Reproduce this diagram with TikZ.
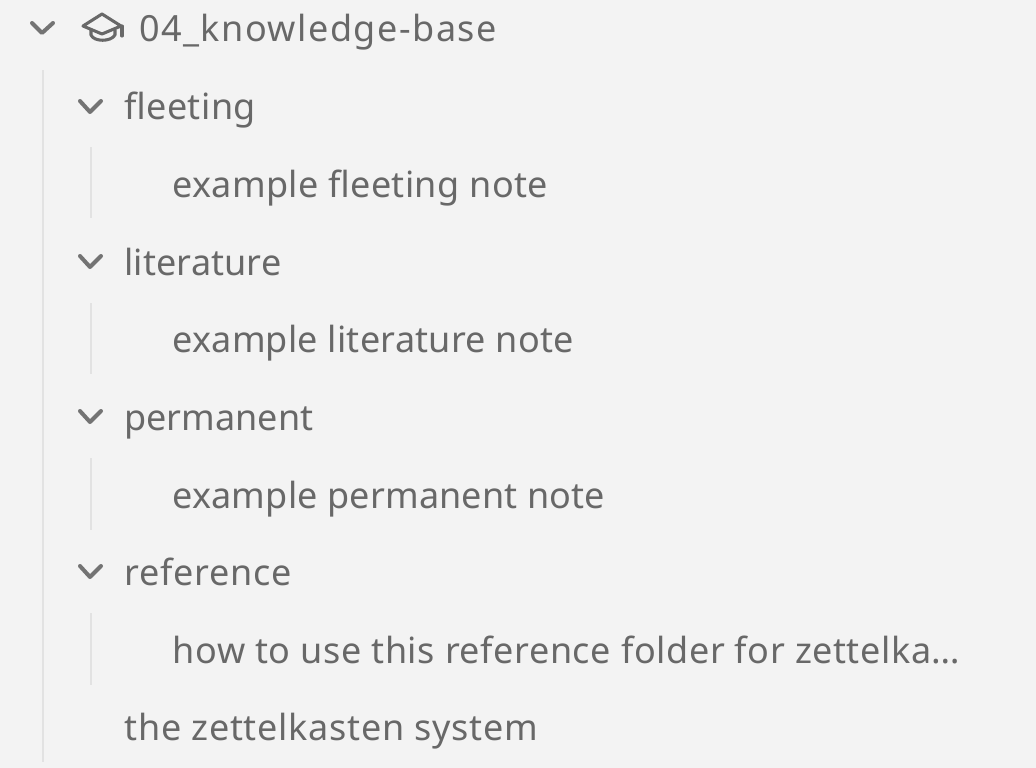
\documentclass[tikz,border=0pt]{standalone}
\usepackage{fontspec}
\setmainfont{Noto Sans}
\newcommand\trk[1]{\addfontfeature{LetterSpace=#1}}
\definecolor{bg}{HTML}{F3F3F3}
\definecolor{txt}{HTML}{686868}
\definecolor{guide}{HTML}{E2E2E2}
\definecolor{chev}{HTML}{737373}
\tikzset{
  x=0.75pt,y=-0.75pt,
  rowtext/.style={anchor=base west,inner sep=0pt,outer sep=0pt,text=txt,font=\fontsize{27pt}{30pt}\selectfont},
  guideline/.style={draw=guide,line width=1.5pt},
  chevron/.style={draw=chev,line width=3pt,line cap=round,line join=round},
  hatline/.style={draw=txt,line width=2.3pt,line cap=round,line join=round}
}
\begin{document}
\begin{tikzpicture}
\useasboundingbox (0,0) rectangle (1036,768);
\fill[bg] (0,0) rectangle (1036,768);
% guides
\draw[guideline] (43,70) -- (43,762);
\draw[guideline] (91,147) -- (91,218);
\draw[guideline] (91,303) -- (91,374);
\draw[guideline] (91,458) -- (91,530);
\draw[guideline] (91,613) -- (91,685);
% chevrons
\draw[chevron] (32,23) -- (42,33) -- (53,23);
\draw[chevron] (80,101) -- (90,112) -- (101,101);
\draw[chevron] (80,256) -- (90,267) -- (101,256);
\draw[chevron] (80,411) -- (90,422) -- (101,411);
\draw[chevron] (80,566) -- (90,577) -- (101,566);
% mortarboard
\draw[hatline] (83,26) -- (102,14) -- (121,26) -- (102,34) -- cycle;
\draw[hatline] (91,30) -- (91,35) .. controls (94,42) and (111,42) .. (115,35) -- (115,30);
\draw[hatline] (122,26) -- (122,36);
% texts
\node[rowtext] (root) at (139,41) {\trk{4.2}04\_knowledge-base};
\node[rowtext] (fleeting) at (124.5,119) {\trk{1.1}fleeting};
\node[rowtext] (fnote) at (172.5,197) {\trk{1}example fleeting note};
\node[rowtext] (literature) at (124.5,275) {\trk{0.3}literature};
\node[rowtext] (lnote) at (172.5,352) {\trk{0.7}example literature note};
\node[rowtext] (permanent) at (124.5,430) {\trk{0}permanent};
\node[rowtext] (pnote) at (172.5,508) {\trk{0.5}example permanent note};
\node[rowtext] (reference) at (124.5,585) {\trk{2}reference};
\node[rowtext] (rnote) at (172.5,663) {\trk{1.65}how to use this reference folder for zettelka…};
\node[rowtext] (system) at (124.5,740) {\trk{2}the zettelkasten system};
\end{tikzpicture}
\end{document}
